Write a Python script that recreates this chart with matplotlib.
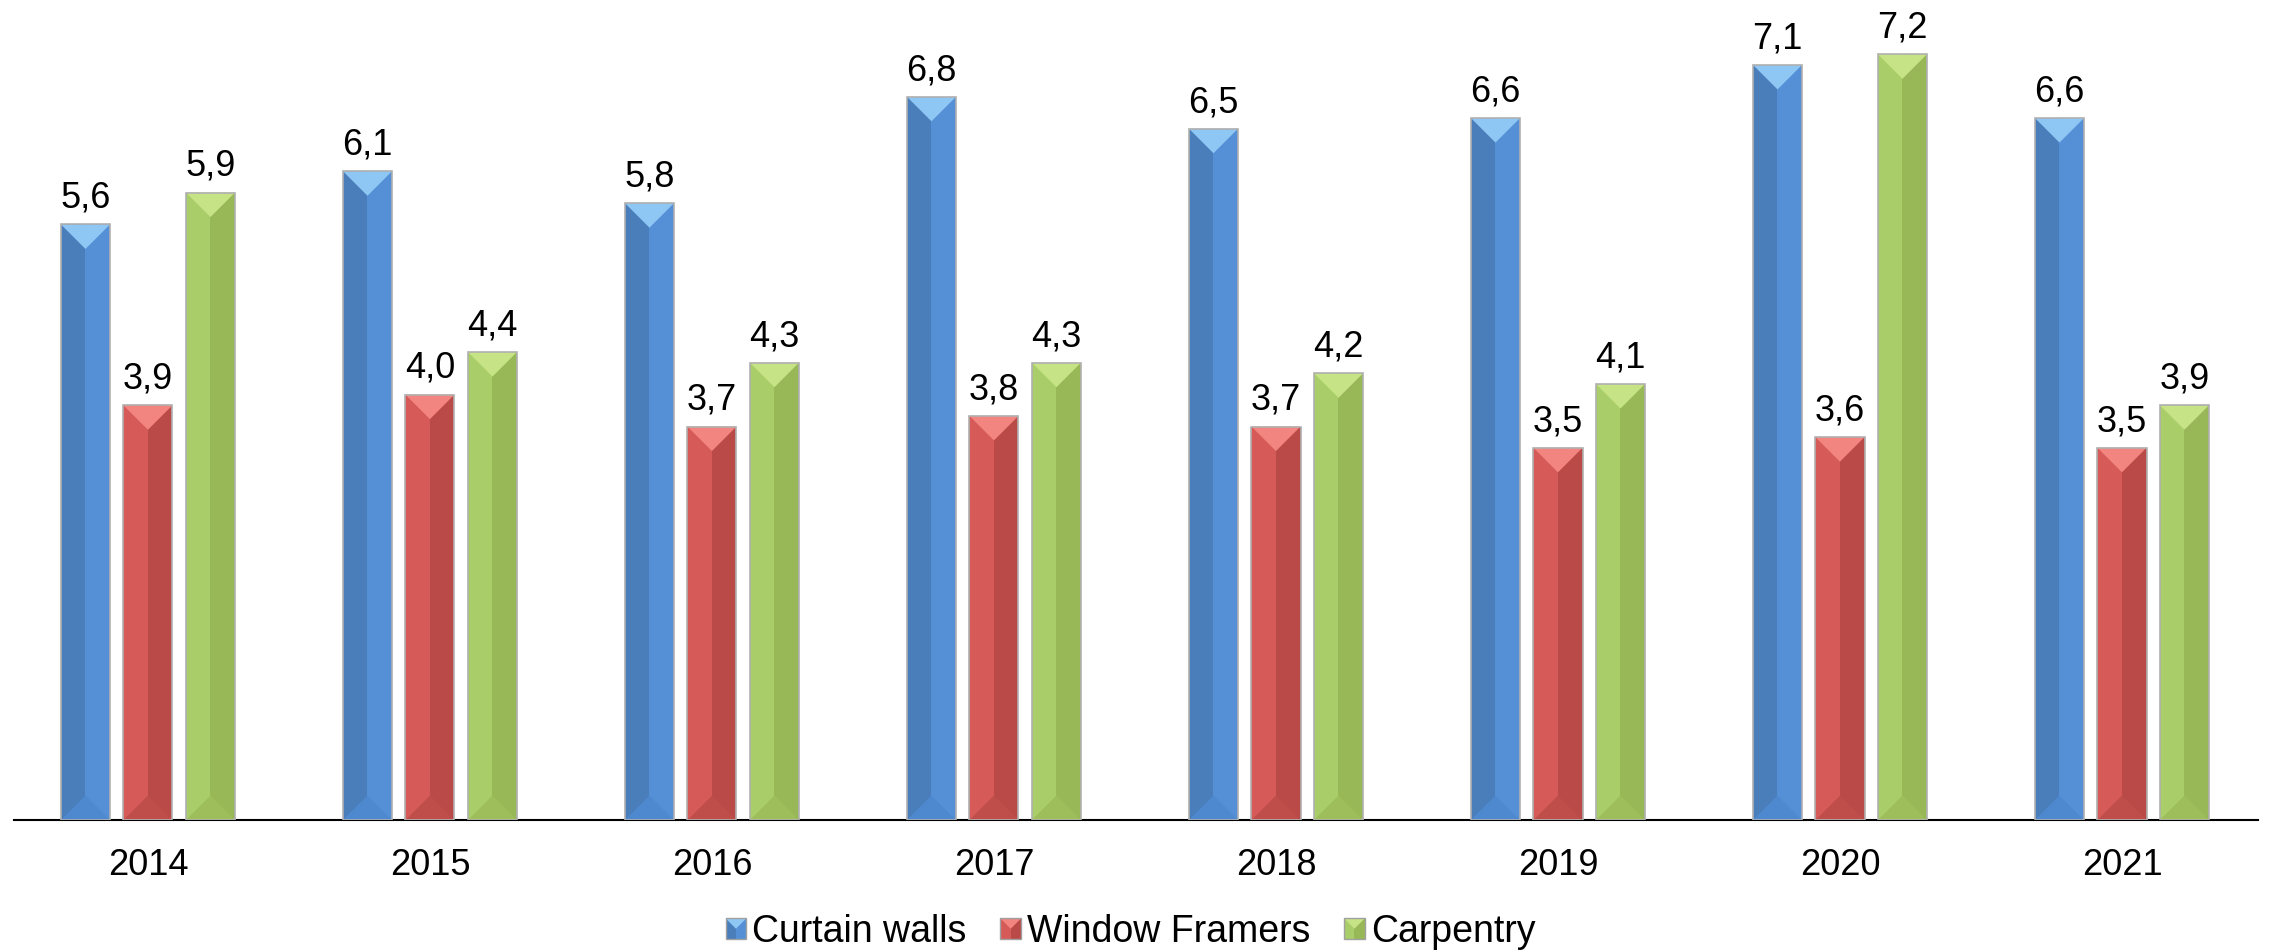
import numpy as np
import matplotlib
matplotlib.use("Agg")
import matplotlib.pyplot as plt
from matplotlib.patches import Polygon, Rectangle, Patch
from matplotlib.legend_handler import HandlerBase

years = ["2014", "2015", "2016", "2017", "2018", "2019", "2020", "2021"]
curtain_walls = [5.6, 6.1, 5.8, 6.8, 6.5, 6.6, 7.1, 6.6]
window_framers = [3.9, 4.0, 3.7, 3.8, 3.7, 3.5, 3.6, 3.5]
carpentry = [5.9, 4.4, 4.3, 4.3, 4.2, 4.1, 7.2, 3.9]
series_names = ["Curtain walls", "Window Framers", "Carpentry"]

# base, left half, right half, top bevel, bottom bevel
palettes = [
    ("#4F86C6", "#4A7EBB", "#5590D6", "#8EC6F4", "#4E89CF"),
    ("#C9524F", "#D65B58", "#B94A48", "#F2857F", "#BF4E4B"),
    ("#A2C45F", "#A9CD68", "#98B857", "#C6E385", "#9DBE5B"),
]

plt.rcParams['font.family'] = ['Liberation Sans', 'DejaVu Sans']

fig = plt.figure(figsize=(22.7, 9.51), dpi=100)
ax = fig.add_axes([0.00617, 0.1377, 0.9885, 0.8623])
ax.set_xlim(-0.475, 7.482)
ax.set_ylim(0, 7.71)

x = np.arange(len(years))
pitch = 0.2216
width = 0.174

# ratio to convert half bar width into data-y units so bevel is 45 degrees
fig.canvas.draw()
px_x = ax.transData.transform((1, 0))[0] - ax.transData.transform((0, 0))[0]
px_y = ax.transData.transform((0, 1))[1] - ax.transData.transform((0, 0))[1]
bev = (width / 2) * px_x / px_y

all_series = [curtain_walls, window_framers, carpentry]
for k, vals in enumerate(all_series):
    base, left, right, top, bottom = palettes[k]
    for i, v in enumerate(vals):
        xc = x[i] + (k - 1) * pitch
        x0, x1 = xc - width / 2, xc + width / 2
        ax.add_patch(Rectangle((x0, 0), width / 2, v, facecolor=left, edgecolor="none", zorder=2))
        ax.add_patch(Rectangle((xc, 0), width / 2, v, facecolor=right, edgecolor="none", zorder=2))
        ax.add_patch(Polygon([(x0, v), (x1, v), (xc, v - bev)], closed=True,
                             facecolor=top, edgecolor="none", zorder=3))
        ax.add_patch(Polygon([(x0, 0), (x1, 0), (xc, bev)], closed=True,
                             facecolor=bottom, edgecolor="none", zorder=3))
        ax.add_patch(Rectangle((x0, 0), width, v, facecolor="none", edgecolor="#B0B0B0",
                               linewidth=1.2, zorder=4))
        ax.annotate(f"{v:.1f}".replace(".", ","), (xc, v), xytext=(0, 12),
                    textcoords="offset points", ha="center", va="baseline", fontsize=26)

for s in ["top", "right", "left"]:
    ax.spines[s].set_visible(False)
ax.spines["bottom"].set_linewidth(1.5)
ax.set_yticks([])
ax.set_xticks(x)
ax.set_xticklabels(years, fontsize=26)
ax.tick_params(axis="x", length=0, pad=20)


class BevelHandler(HandlerBase):
    def __init__(self, pal):
        super().__init__()
        self.pal = pal

    def create_artists(self, legend, orig_handle, xdescent, ydescent, width, height, fontsize, trans):
        base, left, right, top, bottom = self.pal
        s = min(width, height)
        x0 = -xdescent + (width - s) / 2
        y0 = -ydescent + (height - s) / 2
        xc = x0 + s / 2
        arts = [
            Rectangle((x0, y0), s / 2, s, facecolor=left, edgecolor="none"),
            Rectangle((xc, y0), s / 2, s, facecolor=right, edgecolor="none"),
            Polygon([(x0, y0 + s), (x0 + s, y0 + s), (xc, y0 + s / 2)], closed=True,
                    facecolor=top, edgecolor="none"),
            Rectangle((x0, y0), s, s, facecolor="none", edgecolor="#A0A0A0", linewidth=1),
        ]
        for a in arts:
            a.set_transform(trans)
        return arts


handles = [Patch(facecolor=p[0], label=n) for p, n in zip(palettes, series_names)]
fig.legend(handles=handles, loc="center", bbox_to_anchor=(0.498, 0.02), ncol=3, frameon=False,
           prop={'size': 27}, handlelength=0.55, handleheight=0.55,
           handletextpad=0.16, columnspacing=0.9,
           handler_map={h: BevelHandler(p) for h, p in zip(handles, palettes)})

fig.savefig("out.png", dpi=100)
